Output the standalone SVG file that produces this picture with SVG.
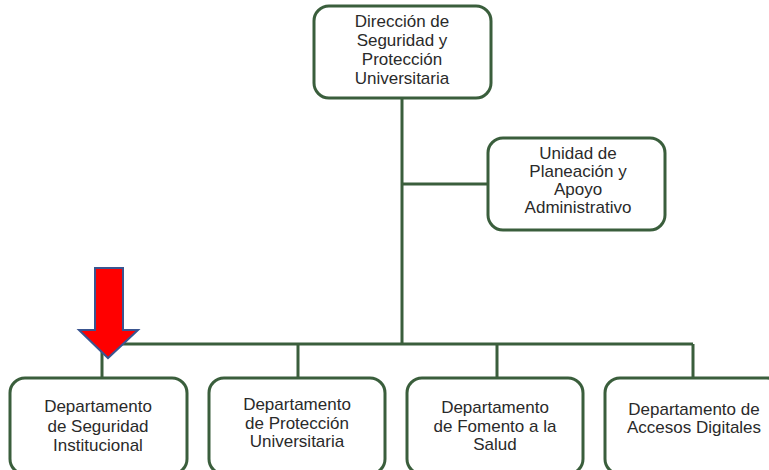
<svg xmlns="http://www.w3.org/2000/svg" width="769" height="470" viewBox="0 0 769 470">
<style>
.box{fill:#fff;stroke:#3a5e3c;stroke-width:3}
.con{fill:none;stroke:#3a5e3c;stroke-width:3}
text{font-family:"Liberation Sans",Arial,sans-serif;font-size:17px;fill:#2a2a2a;text-anchor:middle}
</style>
<rect width="769" height="470" fill="#fff"/>
<g id="connectors">
<path class="con" d="M402 98V344M402 184H488M102 344H693M102 344V378M298 344V378M497 344V378M693 344V378"/>
</g>
<g id="n-direccion">
<rect class="box" x="314" y="6" width="177" height="92" rx="15"/>
<text x="402" y="27">Dirección de</text>
<text x="402" y="46">Seguridad y</text>
<text x="402" y="65">Protección</text>
<text x="402" y="84">Universitaria</text>
</g>
<g id="n-unidad">
<rect class="box" x="488" y="138" width="177" height="92" rx="15"/>
<text x="578" y="159">Unidad de</text>
<text x="578" y="177">Planeación y</text>
<text x="578" y="195">Apoyo</text>
<text x="578" y="213">Administrativo</text>
</g>
<g id="n-seguridad">
<rect class="box" x="10" y="378" width="177" height="96" rx="15"/>
<text x="98" y="412">Departamento</text>
<text x="98" y="432">de Seguridad</text>
<text x="98" y="451">Institucional</text>
</g>
<g id="n-proteccion">
<rect class="box" x="209" y="378" width="176" height="96" rx="15"/>
<text x="297" y="410">Departamento</text>
<text x="297" y="429">de Protección</text>
<text x="297" y="447">Universitaria</text>
</g>
<g id="n-fomento">
<rect class="box" x="407" y="378" width="176" height="96" rx="15"/>
<text x="495" y="413">Departamento</text>
<text x="495" y="432">de Fomento a la</text>
<text x="495" y="450">Salud</text>
</g>
<g id="n-accesos">
<rect class="box" x="605" y="378" width="177" height="96" rx="15"/>
<text x="694" y="415">Departamento de</text>
<text x="694" y="433">Accesos Digitales</text>
</g>
<g id="arrow">
<polygon points="95,268 123,268 123,330 138,330 108,358 79,330 95,330" fill="#ff0000" stroke="#3a5590" stroke-width="2" stroke-linejoin="miter"/>
</g>
</svg>
